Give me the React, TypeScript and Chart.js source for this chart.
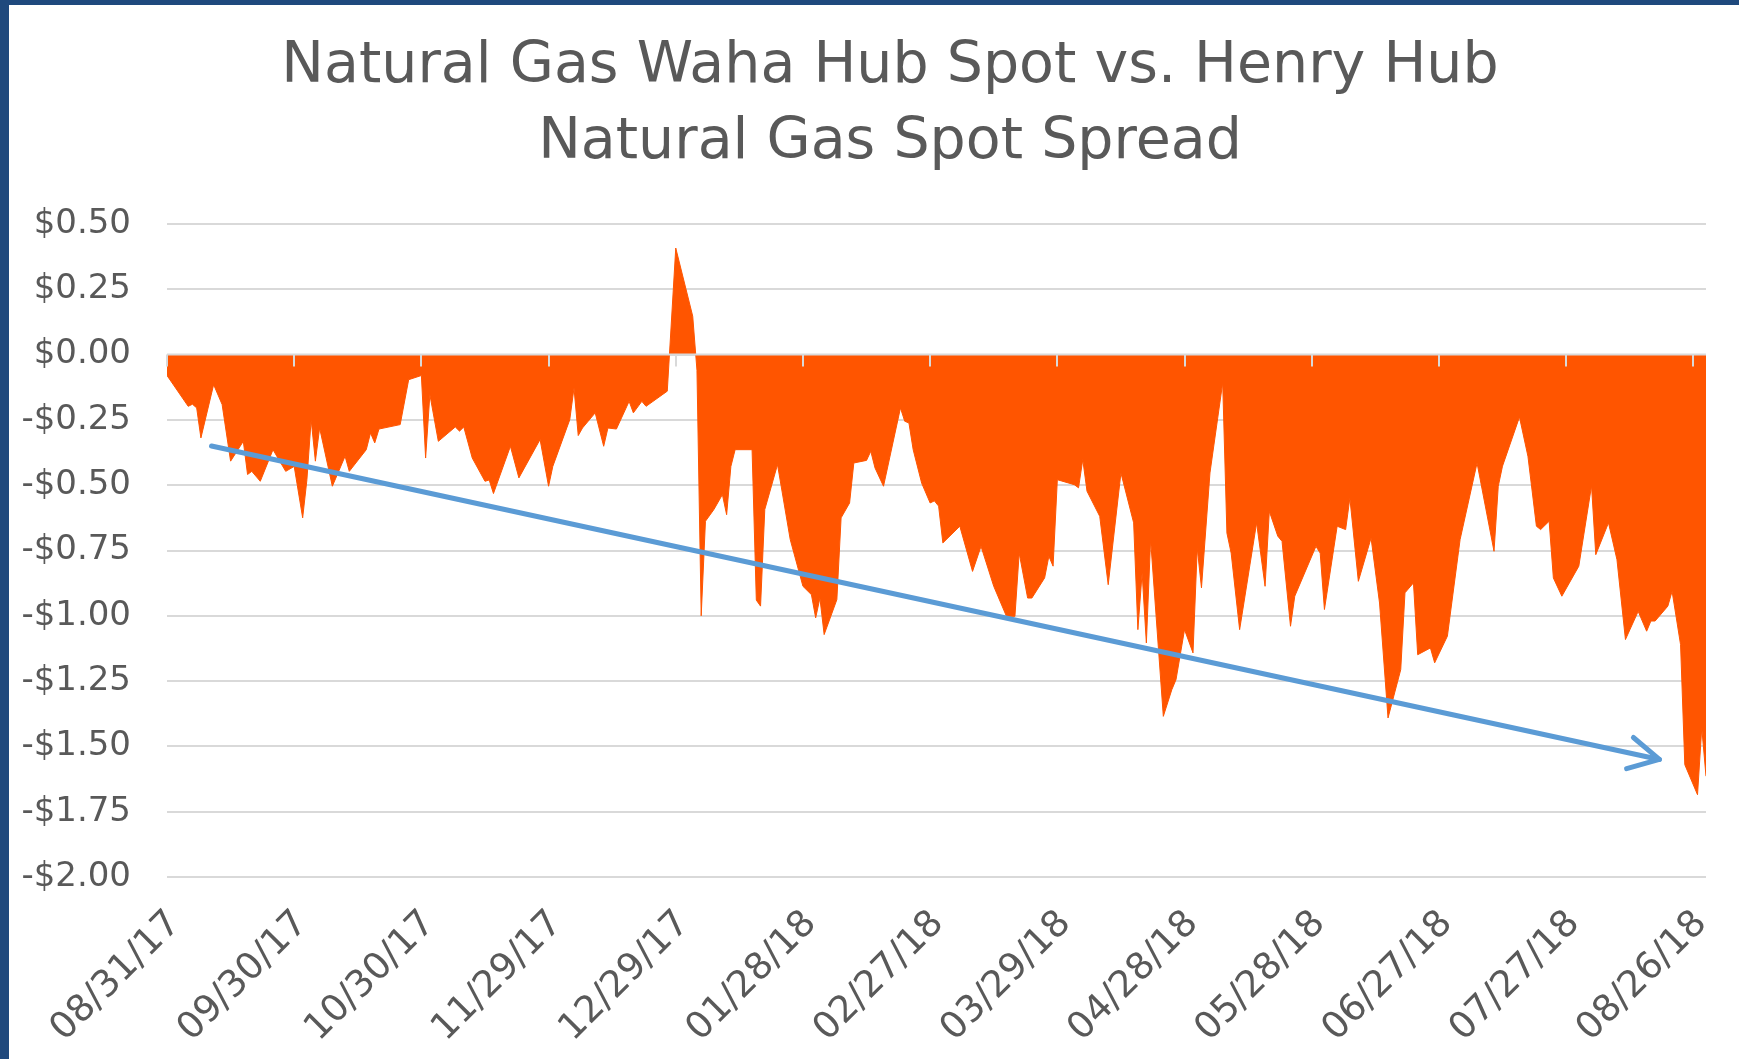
import { useEffect, useRef } from "react";
import { Chart, registerables } from "chart.js";

Chart.register(...registerables);

// Days since 08/31/17 for each spread observation
const dayOffsets = [
  0, 5, 6, 7, 8, 11, 13, 15, 18, 19, 20, 22, 25, 28, 30, 32, 33, 34, 35, 36,
  39, 42, 43, 47, 48, 49, 50, 55, 57, 60, 61, 62, 64, 68, 69, 70, 72, 75, 76, 77,
  81, 83, 88, 90, 91, 95, 96, 97, 98, 101, 103, 104, 106, 109, 110, 112, 113, 118, 120, 124,
  125, 126, 127, 129, 131, 132, 133, 134, 138, 139, 140, 141, 144, 147, 150, 152, 153, 154, 155, 158,
  159, 161, 162, 165, 166, 167, 169, 173, 174, 175, 176, 178, 180, 181, 182, 183, 187, 190, 192, 195,
  198, 200, 201, 203, 204, 207, 208, 209, 210, 214, 215, 216, 217, 220, 222, 225, 228, 229, 230, 231,
  232, 235, 237, 238, 240, 242, 243, 244, 246, 249, 250, 251, 253, 257, 259, 260, 262, 263, 265, 266,
  271, 272, 273, 276, 278, 279, 281, 284, 286, 288, 291, 292, 294, 295, 298, 299, 302, 305, 309, 313,
  314, 315, 319, 321, 323, 324, 326, 327, 329, 333, 336, 337, 340, 342, 344, 347, 349, 350, 351, 354,
  355, 357, 358, 361, 362, 363,
];

// Waha minus Henry Hub spot spread, $/MMBtu
const spreadValues = [
  -0.08, -0.198, -0.19, -0.204, -0.319, -0.115, -0.191, -0.408, -0.332, -0.459, -0.447, -0.485, -0.364, -0.447, -0.428, -0.625, -0.479, -0.249, -0.408, -0.281,
  -0.504, -0.389, -0.447, -0.364, -0.3, -0.338, -0.285, -0.268, -0.096, -0.08, -0.396, -0.153, -0.332, -0.277, -0.293, -0.277, -0.396, -0.485, -0.48, -0.532,
  -0.351, -0.472, -0.325, -0.504, -0.428, -0.249, -0.128, -0.31, -0.281, -0.223, -0.351, -0.281, -0.285, -0.179, -0.223, -0.179, -0.198, -0.14, 0.408, 0.147,
  -0.06, -1.0, -0.638, -0.593, -0.536, -0.613, -0.428, -0.364, -0.364, -0.94, -0.963, -0.593, -0.421, -0.708, -0.887, -0.919, -1.008, -0.932, -1.072, -0.938,
  -0.625, -0.568, -0.415, -0.405, -0.37, -0.434, -0.504, -0.204, -0.255, -0.262, -0.364, -0.492, -0.568, -0.56, -0.58, -0.721, -0.657, -0.83, -0.734, -0.887,
  -1.002, -1.002, -0.76, -0.932, -0.932, -0.855, -0.772, -0.81, -0.479, -0.498, -0.51, -0.402, -0.523, -0.619, -0.881, -0.453, -0.644, -1.053, -0.836, -1.104,
  -0.708, -1.385, -1.283, -1.244, -1.053, -1.142, -0.74, -0.893, -0.453, -0.108, -0.683, -0.76, -1.053, -0.644, -0.887, -0.6, -0.695, -0.715, -1.04, -0.925,
  -0.734, -0.76, -0.976, -0.657, -0.67, -0.549, -0.868, -0.702, -0.951, -1.391, -1.206, -0.912, -0.874, -1.149, -1.123, -1.18, -1.078, -0.708, -0.415, -0.753,
  -0.504, -0.427, -0.239, -0.389, -0.657, -0.67, -0.638, -0.855, -0.925, -0.81, -0.502, -0.766, -0.644, -0.785, -1.091, -0.983, -1.059, -1.02, -1.02, -0.963,
  -0.906, -1.11, -1.57, -1.685, -1.429, -1.614,
];

const tickDays = [0, 30, 60, 90, 120, 150, 180, 210, 240, 270, 300, 330, 360];
const tickLabels = [
  "08/31/17", "09/30/17", "10/30/17", "11/29/17", "12/29/17", "01/28/18", "02/27/18",
  "03/29/18", "04/28/18", "05/28/18", "06/27/18", "07/27/18", "08/26/18",
];
const titleLines = ["Natural Gas Waha Hub Spot vs. Henry Hub", "Natural Gas Spot Spread"];

// Trend arrow annotation, in data units [day, spread]
const trendFrom = [10.5, -0.35];
const trendTo = [352, -1.55];

const FONT = "'DejaVu Sans', 'Liberation Sans', sans-serif";
const TEXT = "#595959";
const ORANGE = "#FF5500";
const GRID = "#D9D9D9";
const ARROW = "#5B9BD5";

const zeroAxisPlugin = {
  id: "zeroAxis",
  afterDatasetsDraw(chart: any) {
    const { ctx, chartArea, scales } = chart;
    const x = scales.x;
    const y = scales.y;
    const y0 = y.getPixelForValue(0);
    ctx.save();
    ctx.strokeStyle = GRID;
    ctx.lineWidth = 2;
    ctx.beginPath();
    ctx.moveTo(chartArea.left, y0);
    ctx.lineTo(chartArea.right, y0);
    for (const d of tickDays) {
      const px = Math.round(x.getPixelForValue(d));
      ctx.moveTo(px, y0);
      ctx.lineTo(px, y0 + 12);
    }
    ctx.stroke();
    ctx.restore();
  },
};

const arrowPlugin = {
  id: "trendArrow",
  afterDatasetsDraw(chart: any) {
    const { ctx, scales } = chart;
    const x1 = scales.x.getPixelForValue(trendFrom[0]);
    const y1 = scales.y.getPixelForValue(trendFrom[1]);
    const x2 = scales.x.getPixelForValue(trendTo[0]);
    const y2 = scales.y.getPixelForValue(trendTo[1]);
    const ang = Math.atan2(y2 - y1, x2 - x1);
    const head = 34;
    const spread = (28 * Math.PI) / 180;
    ctx.save();
    ctx.strokeStyle = ARROW;
    ctx.lineWidth = 5;
    ctx.lineCap = "round";
    ctx.lineJoin = "round";
    ctx.beginPath();
    ctx.moveTo(x1, y1);
    ctx.lineTo(x2, y2);
    ctx.stroke();
    ctx.beginPath();
    ctx.moveTo(x2 - head * Math.cos(ang - spread), y2 - head * Math.sin(ang - spread));
    ctx.lineTo(x2, y2);
    ctx.lineTo(x2 - head * Math.cos(ang + spread), y2 - head * Math.sin(ang + spread));
    ctx.stroke();
    ctx.restore();
  },
};

export default function App() {
  const ref = useRef<HTMLCanvasElement | null>(null);

  useEffect(() => {
    if (!ref.current) return;
    const chart = new Chart(ref.current, {
      type: "line",
      data: {
        datasets: [
          {
            data: dayOffsets.map((d, i) => ({ x: d, y: spreadValues[i] })),
            fill: "origin",
            backgroundColor: ORANGE,
            borderColor: ORANGE,
            borderWidth: 1,
            pointRadius: 0,
            tension: 0,
          },
        ],
      },
      options: {
        responsive: false,
        animation: false,
        layout: { padding: 0 },
        plugins: {
          legend: { display: false },
          tooltip: { enabled: false },
          title: {
            display: true,
            text: titleLines,
            color: TEXT,
            font: { family: FONT, size: 57, weight: "normal", lineHeight: 76 / 57 },
            padding: { top: 24, bottom: 43 },
          },
        },
        scales: {
          x: {
            type: "linear",
            min: 0,
            max: 363,
            afterBuildTicks: (scale: any) => {
              scale.ticks = tickDays.map((v) => ({ value: v }));
            },
            afterFit: (scale: any) => {
              scale.height = 182;
              scale.paddingLeft = 0;
              scale.paddingRight = 65;
            },
            grid: { display: false, drawTicks: false },
            border: { display: false },
            ticks: {
              autoSkip: false,
              minRotation: 45,
              maxRotation: 45,
              padding: 25,
              labelOffset: 8,
              color: TEXT,
              font: { family: FONT, size: 37 },
              callback: (value: any) => {
                const i = tickDays.indexOf(Number(value));
                return i >= 0 ? tickLabels[i] : "";
              },
            },
          },
          y: {
            min: -2,
            max: 0.5,
            afterFit: (scale: any) => {
              scale.width = 158;
              scale.paddingTop = 0;
              scale.paddingBottom = 0;
            },
            grid: { color: GRID, lineWidth: 2, drawTicks: false },
            border: { display: false },
            ticks: {
              stepSize: 0.25,
              padding: 36,
              color: TEXT,
              font: { family: FONT, size: 34 },
              callback: (value: any) => {
                const v = Number(value);
                if (Math.abs(v) < 1e-9) return "$0.00";
                return (v < 0 ? "-" : "") + "$" + Math.abs(v).toFixed(2);
              },
            },
          },
        },
      },
      plugins: [zeroAxisPlugin, arrowPlugin],
    } as any);
    return () => chart.destroy();
  }, []);

  return (
    <div style={{ position: "fixed", left: 0, top: 0, width: 1739, height: 1059, background: "#1F497D", overflow: "hidden" }}>
      <div style={{ position: "absolute", left: 9, top: 5, width: 1730, height: 1054, background: "#FFFFFF", overflow: "hidden" }}>
        <canvas ref={ref} width={1762} height={1054} style={{ display: "block", width: 1762, height: 1054 }} />
      </div>
    </div>
  );
}
